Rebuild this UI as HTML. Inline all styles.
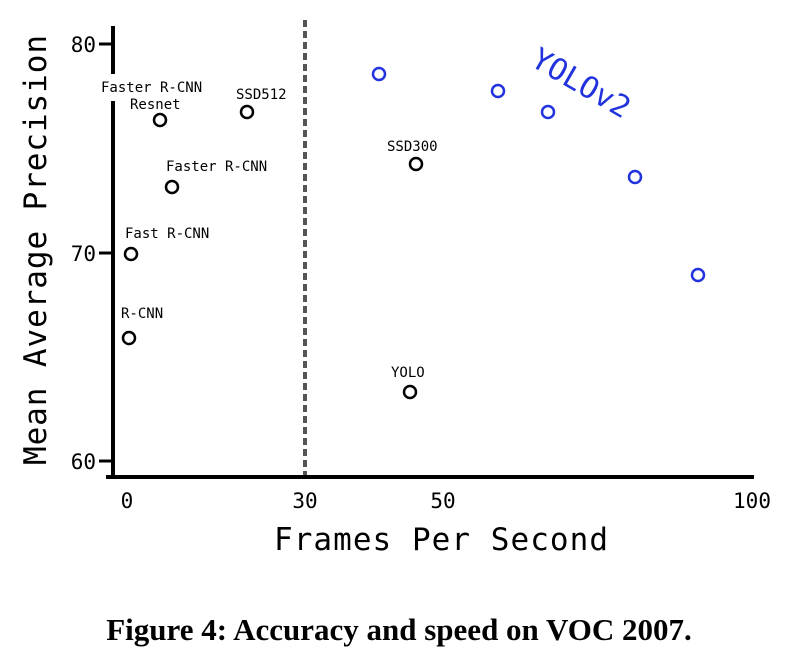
<!DOCTYPE html>
<html><head><meta charset="utf-8"><style>
html,body{margin:0;padding:0;background:#fff;}
svg{display:block;}
.m{font-family:"DejaVu Sans Mono","Liberation Mono",monospace;}
</style></head><body>
<svg width="810" height="664" viewBox="0 0 810 664" xmlns="http://www.w3.org/2000/svg">
<rect width="810" height="664" fill="#fff"/>
<line x1="305" y1="20" x2="305" y2="477" stroke="#555" stroke-width="4" stroke-dasharray="7,4"/>
<line x1="113" y1="26" x2="113" y2="479" stroke="#000" stroke-width="4"/>
<line x1="106" y1="477" x2="754" y2="477" stroke="#000" stroke-width="4"/>
<rect x="98" y="74" width="130" height="27" fill="#fff"/>
<g stroke="#000" stroke-width="3">
<line x1="99" y1="44" x2="113" y2="44"/>
<line x1="99" y1="253" x2="113" y2="253"/>
<line x1="99" y1="461" x2="113" y2="461"/>
</g>
<g class="m" font-size="21" text-anchor="end" fill="#000">
<text x="96" y="52">80</text>
<text x="96" y="261">70</text>
<text x="96" y="469">60</text>
</g>
<g class="m" font-size="21" text-anchor="middle" fill="#000">
<text x="127" y="508">0</text>
<text x="305" y="508">30</text>
<text x="443" y="508">50</text>
<text x="752" y="508">100</text>
</g>
<text class="m" x="441" y="550" font-size="31" text-anchor="middle" textLength="334">Frames Per Second</text>
<text class="m" transform="translate(46,250) rotate(-90)" font-size="31" text-anchor="middle" textLength="430">Mean Average Precision</text>
<g fill="none" stroke="#000" stroke-width="2.5">
<circle cx="160" cy="120" r="6"/>
<circle cx="247" cy="112" r="6"/>
<circle cx="172" cy="187" r="6"/>
<circle cx="131" cy="254" r="6"/>
<circle cx="129" cy="338" r="6"/>
<circle cx="416" cy="164" r="6"/>
<circle cx="410" cy="392" r="6"/>
</g>
<g fill="none" stroke="#2233dd" stroke-width="2.5">
<circle cx="379" cy="74" r="6"/>
<circle cx="498" cy="91" r="6"/>
<circle cx="548" cy="112" r="6"/>
<circle cx="635" cy="177" r="6"/>
<circle cx="698" cy="275" r="6"/>
</g>
<g class="m" font-size="14" fill="#000">
<text x="101" y="92">Faster R-CNN</text>
<text x="130" y="109">Resnet</text>
<text x="236" y="99">SSD512</text>
<text x="166" y="171">Faster R-CNN</text>
<text x="125" y="238">Fast R-CNN</text>
<text x="121" y="318">R-CNN</text>
<text x="387" y="151">SSD300</text>
<text x="391" y="377">YOLO</text>
</g>
<text class="m" transform="translate(576,92) rotate(30)" font-size="30" fill="#2233dd" text-anchor="middle">YOLOv2</text>
<text x="399" y="640" font-family="Liberation Serif,serif" font-weight="bold" font-size="31" text-anchor="middle">Figure 4:  Accuracy and speed on VOC 2007.</text>
</svg>
</body></html>
